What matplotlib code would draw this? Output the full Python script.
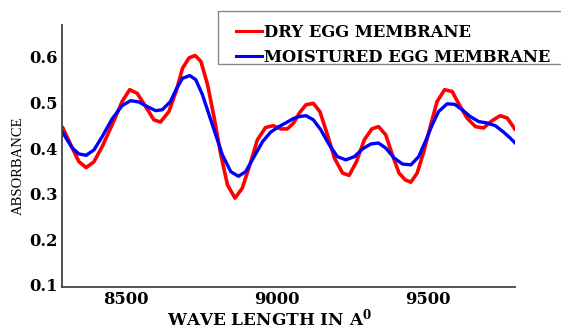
import matplotlib
matplotlib.use("Agg")
import matplotlib.pyplot as plt
from matplotlib.patches import Rectangle
from matplotlib.lines import Line2D

# ---- data ----
dry_wl = [8293, 8324, 8346, 8370, 8396, 8423, 8456, 8489, 8514, 8539, 8567, 8594,
          8616, 8644, 8669, 8689, 8711, 8731, 8750, 8772, 8794, 8816, 8838, 8863,
          8887, 8912, 8937, 8964, 8989, 9014, 9036, 9057, 9076, 9098, 9122, 9144,
          9169, 9192, 9219, 9241, 9265, 9291, 9316, 9338, 9362, 9384, 9406, 9427,
          9445, 9466, 9488, 9511, 9532, 9557, 9582, 9603, 9631, 9659, 9686, 9714,
          9741, 9764, 9780, 9789]
dry_abs = [0.444, 0.400, 0.370, 0.357, 0.370, 0.403, 0.451, 0.502, 0.528, 0.520, 0.491, 0.462,
           0.457, 0.480, 0.527, 0.575, 0.598, 0.603, 0.590, 0.539, 0.466, 0.385, 0.319, 0.290,
           0.312, 0.363, 0.418, 0.445, 0.449, 0.442, 0.442, 0.455, 0.477, 0.495, 0.498, 0.480,
           0.429, 0.378, 0.345, 0.340, 0.370, 0.418, 0.442, 0.447, 0.429, 0.385, 0.345, 0.330,
           0.325, 0.345, 0.392, 0.451, 0.502, 0.528, 0.524, 0.498, 0.466, 0.447, 0.444, 0.460,
           0.471, 0.466, 0.451, 0.442]

moist_wl = [8293, 8324, 8346, 8370, 8396, 8423, 8456, 8489, 8517, 8545, 8572, 8600,
            8622, 8649, 8669, 8689, 8713, 8733, 8755, 8777, 8799, 8821, 8849, 8874,
            8898, 8926, 8954, 8981, 9008, 9036, 9057, 9076, 9098, 9122, 9147, 9175,
            9202, 9230, 9258, 9285, 9313, 9338, 9362, 9390, 9417, 9445, 9471, 9493,
            9516, 9537, 9565, 9590, 9615, 9642, 9670, 9697, 9725, 9752, 9774, 9789]
moist_abs = [0.433, 0.400, 0.387, 0.384, 0.396, 0.425, 0.464, 0.493, 0.504, 0.501, 0.491, 0.482,
             0.484, 0.502, 0.530, 0.553, 0.559, 0.550, 0.517, 0.473, 0.429, 0.385, 0.348, 0.338,
             0.348, 0.381, 0.414, 0.435, 0.447, 0.457, 0.465, 0.469, 0.471, 0.462, 0.440, 0.407,
             0.381, 0.374, 0.381, 0.398, 0.409, 0.411, 0.400, 0.378, 0.365, 0.363, 0.381, 0.414,
             0.451, 0.480, 0.497, 0.496, 0.484, 0.469, 0.458, 0.455, 0.449, 0.435, 0.422, 0.412]

series_labels = ["DRY EGG MEMBRANE", "MOISTURED EGG MEMBRANE"]
series_colors = ['#ff0000', '#0000ff']
x_ticks = [8500, 9000, 9500]
y_ticks = [0.1, 0.2, 0.3, 0.4, 0.5, 0.6]

plt.rcParams['mathtext.fontset'] = 'dejavuserif'

W, H = 561, 331
fig = plt.figure(figsize=(W / 100, H / 100), dpi=100)
ax = fig.add_axes([62 / W, 1 - 287 / H, 453 / W, 262 / H])

ax.plot(dry_wl, dry_abs, color=series_colors[0], lw=2.6, solid_joinstyle='round')
ax.plot(moist_wl, moist_abs, color=series_colors[1], lw=2.4, solid_joinstyle='round')

ax.set_xlim(8290, 9790)
ax.set_ylim(0.095, 0.67)
ax.set_xticks(x_ticks)
ax.set_yticks(y_ticks)
ax.set_yticklabels([f"{v:.1f}" for v in y_ticks])
ax.tick_params(length=0, pad=3)
for lab in ax.get_xticklabels() + ax.get_yticklabels():
    lab.set_fontfamily('DejaVu Serif')
    lab.set_fontweight('bold')
    lab.set_fontsize(11.8)

for s in ['top', 'right']:
    ax.spines[s].set_visible(False)
for s in ['left', 'bottom']:
    ax.spines[s].set_color('#444444')
    ax.spines[s].set_linewidth(1.3)

fig.text(269.5 / W, 1 - 325 / H, r'WAVE LENGTH IN A$^{\mathbf{0}}$', ha='center', va='baseline',
         fontfamily='DejaVu Serif', fontweight='bold', fontsize=12.2)
fig.text(18 / W, 1 - 166 / H, 'ABSORBANCE', rotation=90, ha='center', va='center',
         fontfamily='Liberation Serif', fontsize=10.5)

# legend frame (extends past the right edge as in the reference)
fig.patches.append(Rectangle((218 / W, 1 - 64 / H), 360 / W, 53.5 / H,
                             transform=fig.transFigure, fill=True, facecolor='white',
                             edgecolor='#888888', lw=1.0, zorder=5))
handles = [Line2D([], [], color=c, lw=2.2) for c in series_colors]
leg = fig.legend(handles, series_labels, loc='upper left',
                 bbox_to_anchor=(236 / W, 1 - 24 / H), bbox_transform=fig.transFigure,
                 frameon=False, borderaxespad=0, borderpad=0,
                 handlelength=1.6, handletextpad=0.12, labelspacing=0.5,
                 prop={'family': 'DejaVu Serif', 'weight': 'bold', 'size': 11.8})
leg.set_zorder(6)

fig.savefig('out.png', dpi=100)
